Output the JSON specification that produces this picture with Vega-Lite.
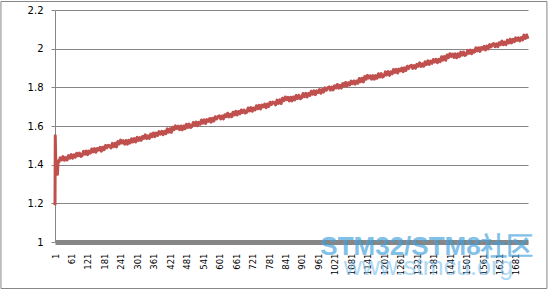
{
  "$schema": "https://vega.github.io/schema/vega-lite/v6.json",
  "width": 473,
  "height": 232,
  "autosize": {"type": "none"},
  "padding": {"left": 55, "top": 10, "right": 22, "bottom": 49},
  "background": "white",
  "config": {"view": {"stroke": null}},
  "resolve": {"axis": {"x": "independent", "y": "independent"}},
  "layer": [
    {
      "data": {"values": [{"k": "frame"}]},
      "mark": {"type": "rect", "fill": null, "stroke": "#868686", "strokeWidth": 1},
      "encoding": {
        "x": {"datum": -196, "type": "quantitative", "axis": null, "scale": {"domain": [1, 1725], "nice": false, "zero": false}},
        "x2": {"datum": 1794},
        "y": {"datum": 2.244, "type": "quantitative", "axis": null, "scale": {"domain": [1, 2.2], "nice": false, "zero": false}},
        "y2": {"datum": 0.7595}
      }
    },
    {
      "data": {"values": [
{"i":1,"v":1.19},{"i":2,"v":1.55},{"i":4,"v":1.40},{"i":6,"v":1.37},{"i":8,"v":1.42},{"i":10,"v":1.35},{"i":12,"v":1.41},
{"i":15,"v":1.414},{"i":20,"v":1.435},{"i":25,"v":1.424},{"i":30,"v":1.442},{"i":35,"v":1.423},{"i":40,"v":1.437},{"i":45,"v":1.424},{"i":50,"v":1.447},{"i":55,"v":1.434},{"i":60,"v":1.452},{"i":65,"v":1.433},{"i":70,"v":1.451},{"i":75,"v":1.439},{"i":80,"v":1.459},{"i":85,"v":1.446},{"i":90,"v":1.460},{"i":95,"v":1.443},
{"i":100,"v":1.447},{"i":105,"v":1.469},{"i":110,"v":1.454},{"i":115,"v":1.471},{"i":120,"v":1.452},{"i":125,"v":1.470},{"i":130,"v":1.460},{"i":135,"v":1.481},{"i":140,"v":1.466},{"i":145,"v":1.483},{"i":150,"v":1.464},{"i":155,"v":1.484},{"i":160,"v":1.475},{"i":165,"v":1.490},{"i":170,"v":1.470},{"i":175,"v":1.490},{"i":180,"v":1.477},{"i":185,"v":1.499},{"i":190,"v":1.487},{"i":195,"v":1.500},
{"i":200,"v":1.498},{"i":205,"v":1.486},{"i":210,"v":1.510},{"i":215,"v":1.493},{"i":220,"v":1.511},{"i":225,"v":1.492},{"i":230,"v":1.520},{"i":235,"v":1.507},{"i":240,"v":1.527},{"i":245,"v":1.512},{"i":250,"v":1.524},{"i":255,"v":1.506},{"i":260,"v":1.525},{"i":265,"v":1.506},{"i":270,"v":1.526},{"i":275,"v":1.512},{"i":280,"v":1.534},{"i":285,"v":1.518},{"i":290,"v":1.535},{"i":295,"v":1.517},
{"i":300,"v":1.541},{"i":305,"v":1.525},{"i":310,"v":1.540},{"i":315,"v":1.526},{"i":320,"v":1.546},{"i":325,"v":1.536},{"i":330,"v":1.554},{"i":335,"v":1.535},{"i":340,"v":1.549},{"i":345,"v":1.536},{"i":350,"v":1.559},{"i":355,"v":1.545},{"i":360,"v":1.564},{"i":365,"v":1.545},{"i":370,"v":1.563},{"i":375,"v":1.551},{"i":380,"v":1.571},{"i":385,"v":1.558},{"i":390,"v":1.572},{"i":395,"v":1.555},
{"i":400,"v":1.572},{"i":405,"v":1.560},{"i":410,"v":1.585},{"i":415,"v":1.568},{"i":420,"v":1.586},{"i":425,"v":1.567},{"i":430,"v":1.594},{"i":435,"v":1.581},{"i":440,"v":1.601},{"i":445,"v":1.587},{"i":450,"v":1.599},{"i":455,"v":1.581},{"i":460,"v":1.600},{"i":465,"v":1.580},{"i":470,"v":1.600},{"i":475,"v":1.586},{"i":480,"v":1.609},{"i":485,"v":1.593},{"i":490,"v":1.610},{"i":495,"v":1.592},
{"i":500,"v":1.597},{"i":505,"v":1.618},{"i":510,"v":1.603},{"i":515,"v":1.620},{"i":520,"v":1.601},{"i":525,"v":1.619},{"i":530,"v":1.609},{"i":535,"v":1.631},{"i":540,"v":1.615},{"i":545,"v":1.632},{"i":550,"v":1.613},{"i":555,"v":1.633},{"i":560,"v":1.624},{"i":565,"v":1.639},{"i":570,"v":1.620},{"i":575,"v":1.640},{"i":580,"v":1.626},{"i":585,"v":1.648},{"i":590,"v":1.636},{"i":595,"v":1.649},
{"i":600,"v":1.653},{"i":605,"v":1.637},{"i":610,"v":1.652},{"i":615,"v":1.637},{"i":620,"v":1.658},{"i":625,"v":1.648},{"i":630,"v":1.666},{"i":635,"v":1.647},{"i":640,"v":1.661},{"i":645,"v":1.648},{"i":650,"v":1.671},{"i":655,"v":1.657},{"i":660,"v":1.676},{"i":665,"v":1.657},{"i":670,"v":1.675},{"i":675,"v":1.663},{"i":680,"v":1.683},{"i":685,"v":1.670},{"i":690,"v":1.683},{"i":695,"v":1.667},
{"i":700,"v":1.671},{"i":705,"v":1.693},{"i":710,"v":1.678},{"i":715,"v":1.695},{"i":720,"v":1.676},{"i":725,"v":1.693},{"i":730,"v":1.683},{"i":735,"v":1.705},{"i":740,"v":1.690},{"i":745,"v":1.707},{"i":750,"v":1.688},{"i":755,"v":1.708},{"i":760,"v":1.699},{"i":765,"v":1.713},{"i":770,"v":1.694},{"i":775,"v":1.714},{"i":780,"v":1.701},{"i":785,"v":1.723},{"i":790,"v":1.711},{"i":795,"v":1.724},
{"i":800,"v":1.721},{"i":805,"v":1.709},{"i":810,"v":1.734},{"i":815,"v":1.717},{"i":820,"v":1.735},{"i":825,"v":1.716},{"i":830,"v":1.744},{"i":835,"v":1.731},{"i":840,"v":1.750},{"i":845,"v":1.736},{"i":850,"v":1.748},{"i":855,"v":1.730},{"i":860,"v":1.749},{"i":865,"v":1.730},{"i":870,"v":1.750},{"i":875,"v":1.735},{"i":880,"v":1.758},{"i":885,"v":1.742},{"i":890,"v":1.759},{"i":895,"v":1.741},
{"i":900,"v":1.746},{"i":905,"v":1.768},{"i":910,"v":1.752},{"i":915,"v":1.769},{"i":920,"v":1.750},{"i":925,"v":1.768},{"i":930,"v":1.758},{"i":935,"v":1.780},{"i":940,"v":1.765},{"i":945,"v":1.782},{"i":950,"v":1.762},{"i":955,"v":1.782},{"i":960,"v":1.773},{"i":965,"v":1.788},{"i":970,"v":1.769},{"i":975,"v":1.789},{"i":980,"v":1.776},{"i":985,"v":1.797},{"i":990,"v":1.785},{"i":995,"v":1.798},
{"i":1000,"v":1.802},{"i":1005,"v":1.786},{"i":1010,"v":1.801},{"i":1015,"v":1.787},{"i":1020,"v":1.808},{"i":1025,"v":1.797},{"i":1030,"v":1.815},{"i":1035,"v":1.796},{"i":1040,"v":1.810},{"i":1045,"v":1.797},{"i":1050,"v":1.820},{"i":1055,"v":1.807},{"i":1060,"v":1.825},{"i":1065,"v":1.806},{"i":1070,"v":1.824},{"i":1075,"v":1.812},{"i":1080,"v":1.832},{"i":1085,"v":1.819},{"i":1090,"v":1.833},{"i":1095,"v":1.816},
{"i":1100,"v":1.833},{"i":1105,"v":1.821},{"i":1110,"v":1.846},{"i":1115,"v":1.829},{"i":1120,"v":1.847},{"i":1125,"v":1.828},{"i":1130,"v":1.856},{"i":1135,"v":1.842},{"i":1140,"v":1.862},{"i":1145,"v":1.848},{"i":1150,"v":1.860},{"i":1155,"v":1.842},{"i":1160,"v":1.861},{"i":1165,"v":1.842},{"i":1170,"v":1.861},{"i":1175,"v":1.847},{"i":1180,"v":1.870},{"i":1185,"v":1.854},{"i":1190,"v":1.871},{"i":1195,"v":1.853},
{"i":1200,"v":1.858},{"i":1205,"v":1.880},{"i":1210,"v":1.864},{"i":1215,"v":1.881},{"i":1220,"v":1.862},{"i":1225,"v":1.880},{"i":1230,"v":1.870},{"i":1235,"v":1.892},{"i":1240,"v":1.877},{"i":1245,"v":1.893},{"i":1250,"v":1.874},{"i":1255,"v":1.894},{"i":1260,"v":1.885},{"i":1265,"v":1.900},{"i":1270,"v":1.881},{"i":1275,"v":1.901},{"i":1280,"v":1.887},{"i":1285,"v":1.909},{"i":1290,"v":1.897},{"i":1295,"v":1.910},
{"i":1300,"v":1.914},{"i":1305,"v":1.898},{"i":1310,"v":1.913},{"i":1315,"v":1.899},{"i":1320,"v":1.919},{"i":1325,"v":1.909},{"i":1330,"v":1.927},{"i":1335,"v":1.908},{"i":1340,"v":1.922},{"i":1345,"v":1.909},{"i":1350,"v":1.932},{"i":1355,"v":1.918},{"i":1360,"v":1.937},{"i":1365,"v":1.918},{"i":1370,"v":1.936},{"i":1375,"v":1.924},{"i":1380,"v":1.944},{"i":1385,"v":1.931},{"i":1390,"v":1.945},{"i":1395,"v":1.928},
{"i":1400,"v":1.945},{"i":1405,"v":1.933},{"i":1410,"v":1.958},{"i":1415,"v":1.941},{"i":1420,"v":1.959},{"i":1425,"v":1.940},{"i":1430,"v":1.967},{"i":1435,"v":1.954},{"i":1440,"v":1.974},{"i":1445,"v":1.960},{"i":1450,"v":1.972},{"i":1455,"v":1.954},{"i":1460,"v":1.973},{"i":1465,"v":1.953},{"i":1470,"v":1.973},{"i":1475,"v":1.959},{"i":1480,"v":1.982},{"i":1485,"v":1.966},{"i":1490,"v":1.983},{"i":1495,"v":1.965},
{"i":1500,"v":1.970},{"i":1505,"v":1.991},{"i":1510,"v":1.976},{"i":1515,"v":1.993},{"i":1520,"v":1.974},{"i":1525,"v":1.992},{"i":1530,"v":1.982},{"i":1535,"v":2.004},{"i":1540,"v":1.988},{"i":1545,"v":2.005},{"i":1550,"v":1.986},{"i":1555,"v":2.006},{"i":1560,"v":1.997},{"i":1565,"v":2.012},{"i":1570,"v":1.993},{"i":1575,"v":2.013},{"i":1580,"v":1.999},{"i":1585,"v":2.021},{"i":1590,"v":2.009},{"i":1595,"v":2.022},
{"i":1600,"v":2.026},{"i":1605,"v":2.010},{"i":1610,"v":2.025},{"i":1615,"v":2.010},{"i":1620,"v":2.031},{"i":1625,"v":2.021},{"i":1630,"v":2.039},{"i":1635,"v":2.020},{"i":1640,"v":2.034},{"i":1645,"v":2.021},{"i":1650,"v":2.044},{"i":1655,"v":2.030},{"i":1660,"v":2.049},{"i":1665,"v":2.030},{"i":1670,"v":2.048},{"i":1675,"v":2.036},{"i":1680,"v":2.056},{"i":1685,"v":2.043},{"i":1690,"v":2.056},{"i":1695,"v":2.040},
{"i":1700,"v":2.057},{"i":1705,"v":2.045},{"i":1710,"v":2.070},{"i":1715,"v":2.053},{"i":1720,"v":2.071},{"i":1725,"v":2.051}
      ]},
      "mark": {"type": "line", "color": "#C0504D", "strokeWidth": 3, "strokeJoin": "round"},
      "encoding": {
        "x": {
          "field": "i", "type": "quantitative",
          "scale": {"domain": [1, 1725], "nice": false, "zero": false},
          "axis": {
            "title": null,
            "values": [1,61,121,181,241,301,361,421,481,541,601,661,721,781,841,901,961,1021,1081,1141,1201,1261,1321,1381,1441,1501,1561,1621,1681],
            "format": "d",
            "labelAngle": 270,
            "labelAlign": "right",
            "labelBaseline": "middle",
            "labelFont": "DejaVu Sans",
            "labelFontSize": 8.5,
            "labelColor": "#000000",
            "labelPadding": 11,
            "labelOverlap": false,
            "labelFlush": false,
            "ticks": false,
            "grid": false,
            "domainColor": "#868686",
            "domainWidth": 5
          }
        },
        "y": {
          "field": "v", "type": "quantitative",
          "scale": {"domain": [1, 2.2], "nice": false, "zero": false},
          "axis": {
            "title": null,
            "values": [1, 1.2, 1.4, 1.6, 1.8, 2, 2.2],
            "format": ".1~f",
            "labelFont": "DejaVu Sans",
            "labelFontSize": 10,
            "labelColor": "#000000",
            "labelPadding": 8,
            "tickSize": 4,
            "tickColor": "#868686",
            "domainColor": "#868686",
            "grid": true,
            "gridColor": "#868686",
            "gridOpacity": 1,
            "labelFlush": false,
            "labelOverlap": false
          }
        }
      }
    },
    {
      "data": {"values": [{"t": "STM32/STM8社区"}]},
      "mark": {"type": "text", "font": "Liberation Sans", "fontWeight": "bold", "fontSize": 26, "align": "center", "baseline": "alphabetic", "fill": "#3fa0dc", "opacity": 0.65},
      "encoding": {
        "text": {"field": "t"},
        "x": {"datum": 1355, "type": "quantitative", "axis": null},
        "y": {"datum": 0.933, "type": "quantitative", "axis": null}
      }
    },
    {
      "data": {"values": [{"t": "www.stmcu.org"}]},
      "mark": {"type": "text", "font": "Liberation Sans", "fontSize": 25, "align": "center", "baseline": "alphabetic", "fill": "#7cc0ec", "opacity": 0.6},
      "encoding": {
        "text": {"field": "t"},
        "x": {"datum": 1362, "type": "quantitative", "axis": null},
        "y": {"datum": 0.829, "type": "quantitative", "axis": null}
      }
    }
  ]
}
